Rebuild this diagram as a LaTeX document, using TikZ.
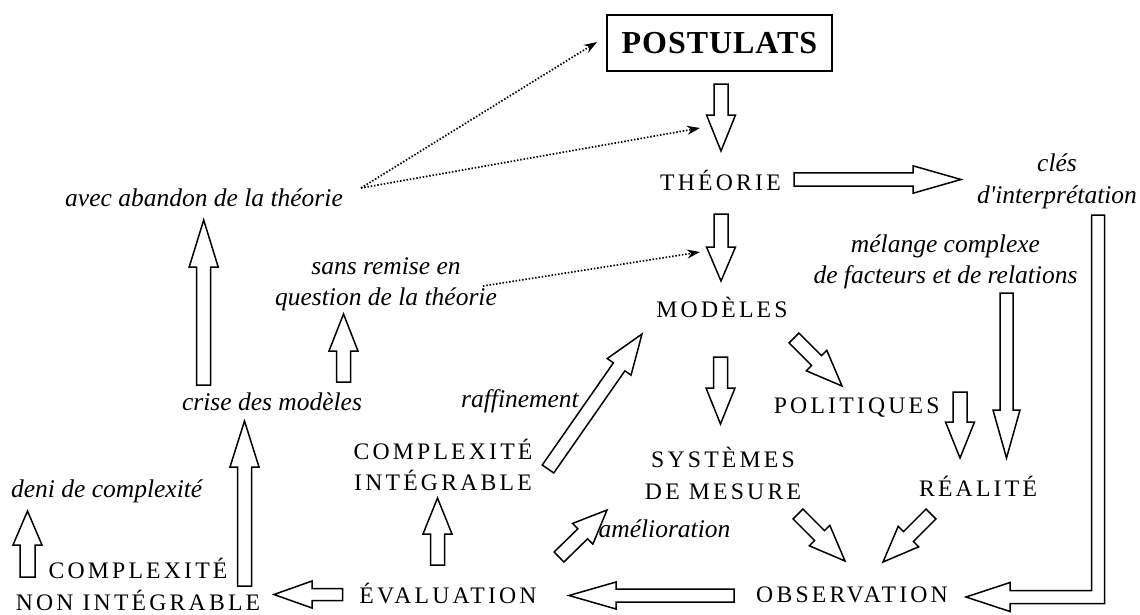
\documentclass[tikz,border=0pt]{standalone}
\usepackage{fontspec}
\setmainfont{Liberation Serif}[Ligatures=TeXOff]
\newfontfamily\capsf{Liberation Serif}[LetterSpace=13.5]
\newfontfamily\postf{Liberation Serif}[LetterSpace=3]
\usetikzlibrary{calc,arrows.meta}
\def\bsw{7pt}
\def\bhw{14.5pt}
\newcommand{\barrow}[3][36]{%
  \coordinate (bB) at ($(#3)!#1pt!(#2)$);
  \draw[blockarrow] ($(#2)!\bsw!90:(#3)$) -- ($(bB)!\bsw!90:(#3)$) -- ($(bB)!\bhw!90:(#3)$) -- (#3)
    -- ($(bB)!\bhw!-90:(#3)$) -- ($(bB)!\bsw!-90:(#3)$) -- ($(#2)!\bsw!-90:(#3)$) -- cycle;}
\begin{document}
\begin{tikzpicture}[x=1pt,y=-1pt,
  caps/.style={font=\capsf\fontsize{23.7}{31.5}\selectfont, inner sep=0pt, align=center, anchor=base},
  ital/.style={font=\itshape\fontsize{25.5}{31.3}\selectfont, inner sep=0pt, align=center, anchor=base},
  boxn/.style={draw, line width=1.8pt, font=\postf\bfseries\fontsize{32}{36}\selectfont, minimum width=225pt, minimum height=56pt, text height=21pt, text depth=0pt, inner sep=0pt},
  blockarrow/.style={draw, line width=1.5pt, fill=white, line join=miter},
  dotarrow/.style={line width=1.7pt, dash pattern=on 1.5pt off 1.8pt, -{Stealth[length=13pt,width=9pt]}}]
\useasboundingbox (0,0) rectangle (1140,614);
% main nodes (multi-line nodes: base = last line)
\node[boxn] (post) at (719.5,43) {POSTULATS};
\node[caps] (theo) at (720.5,190.7) {THÉORIE};
\node[caps] (mod) at (722,317) {MODÈLES};
\node[caps] (pol) at (856.7,413) {POLITIQUES};
\node[caps] (sys) at (723,499) {SYSTÈMES\\DE MESURE};
\node[caps] (rea) at (978,496) {RÉALITÉ};
\node[caps] (obs) at (852,602) {OBSERVATION};
\node[caps] (eval) at (448,603) {ÉVALUATION};
\node[caps] (cint) at (443,490.5) {COMPLEXITÉ\\INTÉGRABLE};
\node[caps] (cnon) at (138,610) {COMPLEXITÉ\\NON INTÉGRABLE};
% italic labels
\node[ital] (cles) at (1057,203) {clés\\d'interprétation};
\node[ital] (melange) at (945.5,283.3) {mélange complexe\\de facteurs et de relations};
\node[ital] (avec) at (204,206.7) {avec abandon de la théorie};
\node[ital] (sans) at (386,305.7) {sans remise en\\question de la théorie};
\node[ital] (crise) at (272,410) {crise des modèles};
\node[ital] (raff) at (520,407) {raffinement};
\node[ital] (amel) at (664.5,537.5) {amélioration};
\node[ital] (deni) at (106.7,497) {deni de complexité};
% arrow end points
\coordinate (a1t) at (721,84);   \coordinate (a1p) at (721,151);
\coordinate (a2t) at (721,214);  \coordinate (a2p) at (721,281);
\coordinate (a3t) at (794,179.5); \coordinate (a3p) at (961,179.5);
\coordinate (a4t) at (720.5,357); \coordinate (a4p) at (720.5,424);
\coordinate (a5t) at (794,338);  \coordinate (a5p) at (842,386);
\coordinate (a6t) at (960,392);  \coordinate (a6p) at (960,458);
\coordinate (a7t) at (1006.5,293); \coordinate (a7p) at (1006.5,458);
\coordinate (a8t) at (798,514);  \coordinate (a8p) at (845,561);
\coordinate (a9t) at (931,514);  \coordinate (a9p) at (883,562);
\coordinate (a11t) at (734,595.5); \coordinate (a11p) at (569,595.5);
\coordinate (a12t) at (342.7,594.5); \coordinate (a12p) at (274,594.5);
\coordinate (a13t) at (437.5,565); \coordinate (a13p) at (437.5,498);
\coordinate (a14t) at (548,469); \coordinate (a14p) at (642,334);
\coordinate (a15t) at (559,557); \coordinate (a15p) at (607,510);
\coordinate (a16t) at (203.7,385); \coordinate (a16p) at (203.7,220);
\coordinate (a17t) at (343.5,382); \coordinate (a17p) at (343.5,314);
\coordinate (a18t) at (244.5,586); \coordinate (a18p) at (244.5,421);
\coordinate (a19t) at (27.5,577); \coordinate (a19p) at (27.5,511);
% block arrows
\barrow{a1t}{a1p}
\barrow[34]{a2t}{a2p}
{\def\bsw{6.7pt}\def\bhw{13.7pt}\barrow[48]{a3t}{a3p}}
\barrow{a4t}{a4p}
\barrow{a5t}{a5p}
\barrow{a6t}{a6p}
{\def\bsw{6.5pt}\def\bhw{13.5pt}\barrow[48]{a7t}{a7p}}
\barrow{a8t}{a8p}
\barrow{a9t}{a9p}
{\def\bsw{6.5pt}\def\bhw{13.5pt}\barrow[47]{a11t}{a11p}}
{\def\bsw{6pt}\def\bhw{13.5pt}\barrow[38]{a12t}{a12p}}
\barrow{a13t}{a13p}
\barrow[40]{a14t}{a14p}
\barrow[34]{a15t}{a15p}
\barrow[47]{a16t}{a16p}
\barrow[37]{a17t}{a17p}
\barrow[46]{a18t}{a18p}
{\def\bsw{7.5pt}\barrow[34]{a19t}{a19p}}
% bent arrow from cles to observation
\coordinate (b1) at (1098,215);
\coordinate (b2) at (966,597);
\draw[blockarrow] ($(b1)+(-6.5,0)$) -- ($(b1)+(6.5,0)$) -- (1104.5,603.5) -- (1010,603.5) -- (1010,611.5)
  -- (b2) -- (1010,582.5) -- (1010,590.5) -- (1091.5,590.5) -- cycle;
% dotted arrows
\coordinate (d1) at (361,188);
\coordinate (d1a) at (597,42);
\coordinate (d1b) at (700,128);
\coordinate (d2) at (483,286);
\coordinate (d2a) at (700,252);
\draw[dotarrow] (d1) -- (d1a);
\draw[dotarrow] (d1) -- (d1b);
\draw[dotarrow] (d2) -- (d2a);
\end{tikzpicture}
\end{document}
